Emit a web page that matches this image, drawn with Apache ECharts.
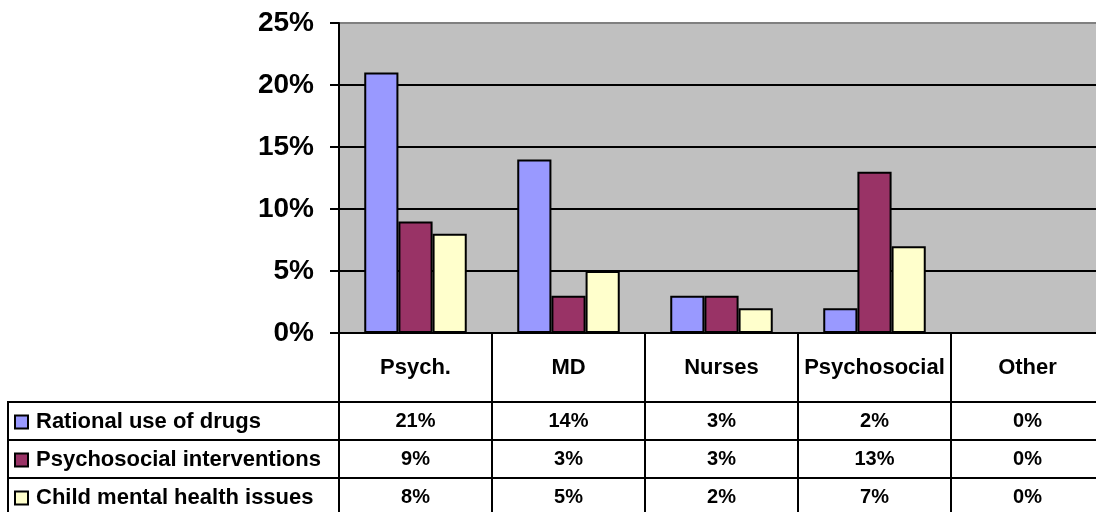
<!DOCTYPE html>
<html>
<head>
<meta charset="utf-8">
<script src="https://cdn.jsdelivr.net/npm/echarts@6/dist/echarts.min.js"></script>
<style>
  html, body { margin: 0; padding: 0; background: #fff; }
  #chart { width: 1096px; height: 512px; }
</style>
</head>
<body>
<div id="chart"></div>
<script>
// categories and values (fractions)
var categories = ['Psych.', 'MD', 'Nurses', 'Psychosocial', 'Other'];
var rationalDrugs = [0.21, 0.14, 0.03, 0.02, 0];
var psychosocialInt = [0.09, 0.03, 0.03, 0.13, 0];
var childMental = [0.08, 0.05, 0.02, 0.07, 0];
var seriesNames = ['Rational use of drugs', 'Psychosocial interventions', 'Child mental health issues'];
var seriesColors = ['#9999FF', '#993366', '#FFFFCC'];

var FONT = '"Liberation Sans", Arial, sans-serif';
var pct = function (v) { return Math.round(v * 100) + '%'; };

var chart = echarts.init(document.getElementById('chart'));

// one extra x axis per data-table row
function tableRow(values, offset) {
    return {
        type: 'category',
        data: categories,
        position: 'bottom',
        offset: offset,
        axisLine: { show: true, lineStyle: { color: '#000', width: 2 } },
        axisTick: { show: true, interval: 0, length: 38, lineStyle: { color: '#000', width: 2 } },
        axisLabel: {
            interval: 0,
            margin: 19,
            verticalAlign: 'middle',
            fontFamily: FONT, fontWeight: 'bold', fontSize: 20, color: '#000',
            formatter: function (v, i) { return pct(values[i]); }
        }
    };
}

var rows = [rationalDrugs, psychosocialInt, childMental];

chart.setOption({
    animation: false,
    grid: {
        left: 339, top: 23, width: 765, bottom: 179,
        outerBoundsMode: 'none',
        show: true, backgroundColor: '#C0C0C0', borderWidth: 0
    },
    legend: {
        orient: 'vertical',
        left: 14, top: 403, height: 160,
        padding: 0,
        itemGap: 0,
        icon: 'rect',
        itemWidth: 13, itemHeight: 13,
        selectedMode: false,
        textStyle: { fontFamily: FONT, fontWeight: 'bold', fontSize: 22, color: '#000', lineHeight: 38, padding: [0, 0, 0, 3] },
        data: seriesNames
    },
    xAxis: [
        {
            type: 'category',
            data: categories,
            axisLine: { lineStyle: { color: '#000', width: 2 } },
            axisTick: { show: true, interval: 0, length: 69, lineStyle: { color: '#000', width: 2 } },
            axisLabel: {
                interval: 0,
                margin: 35, verticalAlign: 'middle',
                fontFamily: FONT, fontWeight: 'bold', fontSize: 22, color: '#000'
            }
        },
        tableRow(rows[0], 69),
        tableRow(rows[1], 107),
        tableRow(rows[2], 145)
    ],
    yAxis: {
        type: 'value',
        min: 0, max: 0.25, interval: 0.05,
        axisLine: { show: true, lineStyle: { color: '#000', width: 2 } },
        axisTick: { show: true, length: 9, lineStyle: { color: '#000', width: 2 } },
        axisLabel: {
            margin: 25,
            fontFamily: FONT, fontWeight: 'bold', fontSize: 28, color: '#000',
            formatter: pct
        },
        splitLine: { lineStyle: { color: ['#000', '#000', '#000', '#000', '#000', '#808080'], width: 2 } }
    },
    series: rows.map(function (vals, k) {
        return {
            name: seriesNames[k],
            type: 'bar',
            data: vals,
            barGap: 0,
            barCategoryGap: '33%',
            itemStyle: { color: seriesColors[k], borderColor: '#000', borderWidth: 2 }
        };
    }),
    graphic: [
        // left (legend) column of the data table
        { type: 'line', shape: { x1: 8, y1: 402, x2: 339, y2: 402 }, style: { stroke: '#000', lineWidth: 2 } },
        { type: 'line', shape: { x1: 8, y1: 440, x2: 339, y2: 440 }, style: { stroke: '#000', lineWidth: 2 } },
        { type: 'line', shape: { x1: 8, y1: 478, x2: 339, y2: 478 }, style: { stroke: '#000', lineWidth: 2 } },
        { type: 'line', shape: { x1: 8, y1: 401, x2: 8, y2: 512 }, style: { stroke: '#000', lineWidth: 2 } }
    ]
});
</script>
</body>
</html>
